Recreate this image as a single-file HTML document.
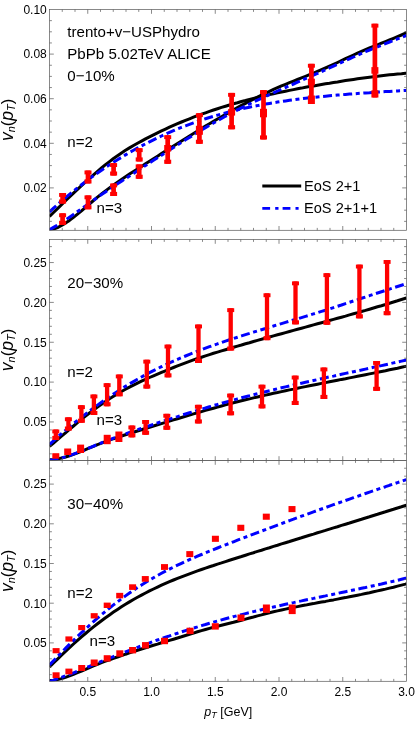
<!DOCTYPE html>
<html><head><meta charset="utf-8"><title>vn(pT)</title>
<style>html,body{margin:0;padding:0;background:#fff}body{width:415px;height:741px;overflow:hidden;font-family:"Liberation Sans",sans-serif}svg{display:block;will-change:transform}</style></head>
<body>
<svg width="415" height="741" viewBox="0 0 415 741">
<rect width="415" height="741" fill="#fff"/>
<defs>
<clipPath id="c0"><rect x="49.50" y="9.50" width="357.00" height="220.80"/></clipPath>
<clipPath id="c1"><rect x="49.50" y="239.50" width="357.00" height="221.00"/></clipPath>
<clipPath id="c2"><rect x="49.50" y="460.50" width="357.00" height="220.80"/></clipPath>
</defs>
<g clip-path="url(#c0)">
<path d="M49.5 216.4L53.5 212.5L57.5 208.6L61.5 204.7L65.5 200.8L69.5 197.0L73.5 193.2L77.5 189.4L81.5 185.7L85.5 182.0L89.5 178.4L93.5 174.8L97.5 171.4L101.5 168.0L105.5 164.7L109.5 161.6L113.5 158.5L117.5 155.7L121.5 152.9L125.5 150.3L129.5 147.9L133.5 145.5L137.5 143.3L141.5 141.1L145.5 138.9L149.5 136.9L153.5 134.8L157.5 132.9L161.5 130.9L165.5 129.1L169.5 127.2L173.5 125.4L177.5 123.7L181.5 122.0L185.5 120.4L189.5 118.8L193.5 117.2L197.5 115.7L201.5 114.2L205.5 112.8L209.5 111.4L213.5 110.0L217.5 108.7L221.5 107.4L225.5 106.2L229.5 105.0L233.5 103.8L237.5 102.7L241.5 101.5L245.5 100.5L249.5 99.4L253.5 98.4L257.5 97.4L261.5 96.5L265.5 95.5L269.5 94.6L273.5 93.7L277.5 92.9L281.5 92.0L285.5 91.2L289.5 90.4L293.5 89.6L297.5 88.8L301.5 88.1L305.5 87.3L309.5 86.6L313.5 85.9L317.5 85.2L321.5 84.5L325.5 83.8L329.5 83.2L333.5 82.5L337.5 81.9L341.5 81.2L345.5 80.6L349.5 80.0L353.5 79.4L357.5 78.8L361.5 78.2L365.5 77.7L369.5 77.2L373.5 76.7L377.5 76.2L381.5 75.7L385.5 75.2L389.5 74.8L393.5 74.4L397.5 74.0L401.5 73.7L405.5 73.3L406.5 73.3" fill="none" stroke="#000" stroke-width="3.0" stroke-linejoin="round"/>
<path d="M49.5 230.2L53.5 229.1L57.5 227.6L61.5 225.5L65.5 223.1L69.5 220.4L73.5 217.4L77.5 214.2L81.5 210.9L85.5 207.4L89.5 204.0L93.5 200.5L97.5 197.2L101.5 194.0L105.5 190.9L109.5 187.9L113.5 185.0L117.5 182.2L121.5 179.4L125.5 176.7L129.5 174.1L133.5 171.5L137.5 168.9L141.5 166.4L145.5 163.8L149.5 161.3L153.5 158.7L157.5 156.2L161.5 153.6L165.5 151.0L169.5 148.5L173.5 146.0L177.5 143.4L181.5 140.9L185.5 138.4L189.5 135.9L193.5 133.5L197.5 131.0L201.5 128.6L205.5 126.1L209.5 123.7L213.5 121.4L217.5 119.0L221.5 116.7L225.5 114.4L229.5 112.1L233.5 109.8L237.5 107.6L241.5 105.4L245.5 103.3L249.5 101.2L253.5 99.1L257.5 97.1L261.5 95.1L265.5 93.1L269.5 91.3L273.5 89.4L277.5 87.7L281.5 85.9L285.5 84.3L289.5 82.7L293.5 81.1L297.5 79.5L301.5 77.9L305.5 76.3L309.5 74.7L313.5 73.1L317.5 71.4L321.5 69.7L325.5 68.0L329.5 66.2L333.5 64.4L337.5 62.5L341.5 60.6L345.5 58.7L349.5 56.9L353.5 55.0L357.5 53.2L361.5 51.4L365.5 49.7L369.5 48.0L373.5 46.4L377.5 44.8L381.5 43.2L385.5 41.6L389.5 40.0L393.5 38.4L397.5 36.7L401.5 35.0L405.5 33.2L406.5 32.7" fill="none" stroke="#000" stroke-width="3.0" stroke-linejoin="round"/>
<path d="M49.5 211.8L53.5 208.2L57.5 204.6L61.5 201.1L65.5 197.7L69.5 194.4L73.5 191.1L77.5 187.9L81.5 184.8L85.5 181.7L89.5 178.7L93.5 175.8L97.5 173.0L101.5 170.2L105.5 167.5L109.5 164.8L113.5 162.2L117.5 159.7L121.5 157.3L125.5 154.9L129.5 152.5L133.5 150.3L137.5 148.0L141.5 145.9L145.5 143.8L149.5 141.8L153.5 139.8L157.5 137.8L161.5 136.0L165.5 134.2L169.5 132.4L173.5 130.7L177.5 129.0L181.5 127.4L185.5 125.9L189.5 124.4L193.5 122.9L197.5 121.5L201.5 120.1L205.5 118.8L209.5 117.5L213.5 116.3L217.5 115.1L221.5 114.0L225.5 112.9L229.5 111.8L233.5 110.8L237.5 109.9L241.5 108.9L245.5 108.0L249.5 107.2L253.5 106.3L257.5 105.6L261.5 104.8L265.5 104.1L269.5 103.4L273.5 102.7L277.5 102.1L281.5 101.5L285.5 100.9L289.5 100.3L293.5 99.8L297.5 99.3L301.5 98.8L305.5 98.3L309.5 97.8L313.5 97.4L317.5 97.0L321.5 96.6L325.5 96.2L329.5 95.8L333.5 95.5L337.5 95.1L341.5 94.8L345.5 94.4L349.5 94.1L353.5 93.8L357.5 93.5L361.5 93.2L365.5 92.9L369.5 92.7L373.5 92.4L377.5 92.1L381.5 91.9L385.5 91.6L389.5 91.4L393.5 91.1L397.5 90.9L401.5 90.7L405.5 90.4L406.5 90.4" fill="none" stroke="#0000ff" stroke-width="3.0" stroke-dasharray="9 3.6 4 3.6" stroke-dashoffset="0" stroke-linejoin="round"/>
<path d="M49.5 229.8L53.5 227.4L57.5 225.0L61.5 222.5L65.5 219.9L69.5 217.2L73.5 214.4L77.5 211.6L81.5 208.8L85.5 205.9L89.5 203.1L93.5 200.2L97.5 197.4L101.5 194.6L105.5 191.9L109.5 189.2L113.5 186.5L117.5 183.8L121.5 181.2L125.5 178.6L129.5 176.0L133.5 173.4L137.5 170.8L141.5 168.2L145.5 165.5L149.5 162.9L153.5 160.3L157.5 157.7L161.5 155.2L165.5 152.6L169.5 150.0L173.5 147.4L177.5 144.9L181.5 142.4L185.5 139.8L189.5 137.4L193.5 134.9L197.5 132.4L201.5 130.0L205.5 127.6L209.5 125.3L213.5 123.0L217.5 120.7L221.5 118.5L225.5 116.3L229.5 114.1L233.5 112.0L237.5 109.9L241.5 107.9L245.5 105.9L249.5 104.0L253.5 102.0L257.5 100.1L261.5 98.3L265.5 96.4L269.5 94.6L273.5 92.8L277.5 91.0L281.5 89.2L285.5 87.5L289.5 85.7L293.5 84.0L297.5 82.2L301.5 80.4L305.5 78.7L309.5 76.9L313.5 75.1L317.5 73.4L321.5 71.6L325.5 69.7L329.5 67.9L333.5 66.1L337.5 64.2L341.5 62.4L345.5 60.6L349.5 58.8L353.5 57.0L357.5 55.2L361.5 53.4L365.5 51.7L369.5 50.0L373.5 48.4L377.5 46.8L381.5 45.2L385.5 43.6L389.5 42.0L393.5 40.5L397.5 38.9L401.5 37.4L405.5 35.9L406.5 35.5" fill="none" stroke="#0000ff" stroke-width="3.0" stroke-dasharray="9 3.6 4 3.6" stroke-dashoffset="0" stroke-linejoin="round"/>
</g>
<g fill="#ff0000">
<rect x="60.25" y="193.00" width="4.70" height="10.60"/>
<rect x="59.10" y="193.00" width="7.00" height="3.90"/>
<rect x="59.10" y="199.50" width="7.00" height="4.10"/>
<rect x="85.65" y="170.50" width="4.70" height="13.00"/>
<rect x="84.50" y="170.50" width="7.00" height="3.90"/>
<rect x="84.50" y="179.40" width="7.00" height="4.10"/>
<rect x="111.25" y="163.10" width="4.70" height="12.50"/>
<rect x="110.10" y="163.10" width="7.00" height="3.90"/>
<rect x="110.10" y="171.50" width="7.00" height="4.10"/>
<rect x="136.85" y="148.20" width="4.70" height="13.30"/>
<rect x="135.70" y="148.20" width="7.00" height="3.90"/>
<rect x="135.70" y="157.40" width="7.00" height="4.10"/>
<rect x="60.25" y="213.30" width="4.70" height="11.60"/>
<rect x="59.10" y="213.30" width="7.00" height="3.90"/>
<rect x="59.10" y="220.80" width="7.00" height="4.10"/>
<rect x="85.65" y="195.40" width="4.70" height="13.90"/>
<rect x="84.50" y="195.40" width="7.00" height="3.90"/>
<rect x="84.50" y="205.20" width="7.00" height="4.10"/>
<rect x="111.25" y="183.50" width="4.70" height="12.50"/>
<rect x="110.10" y="183.50" width="7.00" height="3.90"/>
<rect x="110.10" y="191.90" width="7.00" height="4.10"/>
<rect x="136.85" y="164.40" width="4.70" height="14.40"/>
<rect x="135.70" y="164.40" width="7.00" height="3.90"/>
<rect x="135.70" y="174.70" width="7.00" height="4.10"/>
<rect x="165.35" y="135.20" width="4.70" height="28.60"/>
<rect x="164.20" y="135.20" width="7.00" height="3.90"/>
<rect x="164.20" y="159.70" width="7.00" height="4.10"/>
<rect x="164.20" y="145.00" width="7.00" height="6.50"/>
<rect x="197.05" y="113.20" width="4.70" height="30.60"/>
<rect x="195.90" y="113.20" width="7.00" height="3.90"/>
<rect x="195.90" y="139.70" width="7.00" height="4.10"/>
<rect x="195.90" y="125.80" width="7.00" height="9.00"/>
<rect x="229.25" y="92.90" width="4.70" height="36.40"/>
<rect x="228.10" y="92.90" width="7.00" height="3.90"/>
<rect x="228.10" y="125.20" width="7.00" height="4.10"/>
<rect x="228.10" y="109.10" width="7.00" height="6.50"/>
<rect x="261.15" y="90.10" width="4.70" height="49.40"/>
<rect x="260.00" y="90.10" width="7.00" height="3.90"/>
<rect x="260.00" y="135.40" width="7.00" height="4.10"/>
<rect x="260.00" y="108.80" width="7.00" height="8.50"/>
<rect x="309.05" y="63.80" width="4.70" height="40.20"/>
<rect x="307.90" y="63.80" width="7.00" height="3.90"/>
<rect x="307.90" y="95.50" width="7.00" height="8.50"/>
<rect x="307.90" y="78.70" width="7.00" height="6.60"/>
<rect x="372.55" y="23.70" width="4.70" height="73.80"/>
<rect x="371.40" y="23.70" width="7.00" height="3.90"/>
<rect x="371.40" y="90.30" width="7.00" height="7.20"/>
<rect x="371.40" y="67.10" width="7.00" height="6.60"/>
</g>
<g clip-path="url(#c1)">
<path d="M49.5 446.4L53.5 443.0L57.5 439.6L61.5 436.2L65.5 432.8L69.5 429.4L73.5 426.0L77.5 422.7L81.5 419.4L85.5 416.2L89.5 413.0L93.5 410.0L97.5 407.0L101.5 404.2L105.5 401.5L109.5 398.8L113.5 396.3L117.5 393.9L121.5 391.5L125.5 389.3L129.5 387.1L133.5 385.1L137.5 383.1L141.5 381.2L145.5 379.3L149.5 377.5L153.5 375.8L157.5 374.1L161.5 372.4L165.5 370.8L169.5 369.2L173.5 367.5L177.5 365.9L181.5 364.4L185.5 362.9L189.5 361.4L193.5 359.9L197.5 358.5L201.5 357.2L205.5 355.9L209.5 354.6L213.5 353.3L217.5 352.1L221.5 350.9L225.5 349.7L229.5 348.5L233.5 347.3L237.5 346.1L241.5 345.0L245.5 343.8L249.5 342.7L253.5 341.5L257.5 340.4L261.5 339.3L265.5 338.1L269.5 337.0L273.5 335.9L277.5 334.8L281.5 333.7L285.5 332.6L289.5 331.5L293.5 330.4L297.5 329.3L301.5 328.2L305.5 327.1L309.5 326.0L313.5 324.9L317.5 323.8L321.5 322.7L325.5 321.6L329.5 320.5L333.5 319.4L337.5 318.3L341.5 317.2L345.5 316.1L349.5 314.9L353.5 313.8L357.5 312.7L361.5 311.5L365.5 310.4L369.5 309.2L373.5 308.0L377.5 306.8L381.5 305.7L385.5 304.5L389.5 303.2L393.5 302.0L397.5 300.8L401.5 299.5L405.5 298.3L406.5 298.0" fill="none" stroke="#000" stroke-width="3.0" stroke-linejoin="round"/>
<path d="M49.5 459.8L53.5 459.5L57.5 458.9L61.5 458.0L65.5 457.0L69.5 455.7L73.5 454.4L77.5 452.8L81.5 451.3L85.5 449.6L89.5 447.9L93.5 446.3L97.5 444.6L101.5 443.1L105.5 441.6L109.5 440.1L113.5 438.7L117.5 437.4L121.5 436.0L125.5 434.7L129.5 433.5L133.5 432.2L137.5 431.0L141.5 429.8L145.5 428.5L149.5 427.3L153.5 426.0L157.5 424.8L161.5 423.6L165.5 422.4L169.5 421.1L173.5 419.9L177.5 418.7L181.5 417.5L185.5 416.3L189.5 415.1L193.5 413.9L197.5 412.8L201.5 411.6L205.5 410.4L209.5 409.3L213.5 408.2L217.5 407.1L221.5 406.0L225.5 404.9L229.5 403.9L233.5 402.8L237.5 401.8L241.5 400.8L245.5 399.8L249.5 398.9L253.5 397.9L257.5 397.0L261.5 396.0L265.5 395.1L269.5 394.2L273.5 393.3L277.5 392.5L281.5 391.6L285.5 390.7L289.5 389.9L293.5 389.1L297.5 388.2L301.5 387.4L305.5 386.6L309.5 385.8L313.5 385.0L317.5 384.2L321.5 383.4L325.5 382.6L329.5 381.8L333.5 381.0L337.5 380.2L341.5 379.4L345.5 378.7L349.5 377.9L353.5 377.1L357.5 376.3L361.5 375.5L365.5 374.7L369.5 373.9L373.5 373.1L377.5 372.3L381.5 371.5L385.5 370.7L389.5 369.8L393.5 369.0L397.5 368.2L401.5 367.3L405.5 366.4L406.5 366.2" fill="none" stroke="#000" stroke-width="3.0" stroke-linejoin="round"/>
<path d="M49.5 444.4L53.5 440.8L57.5 437.2L61.5 433.7L65.5 430.3L69.5 426.9L73.5 423.6L77.5 420.4L81.5 417.2L85.5 414.1L89.5 411.0L93.5 408.0L97.5 405.1L101.5 402.2L105.5 399.4L109.5 396.7L113.5 394.0L117.5 391.4L121.5 388.8L125.5 386.3L129.5 383.9L133.5 381.6L137.5 379.3L141.5 377.0L145.5 374.8L149.5 372.7L153.5 370.6L157.5 368.6L161.5 366.7L165.5 364.8L169.5 362.9L173.5 361.1L177.5 359.4L181.5 357.7L185.5 356.0L189.5 354.3L193.5 352.8L197.5 351.2L201.5 349.7L205.5 348.2L209.5 346.7L213.5 345.3L217.5 343.9L221.5 342.5L225.5 341.1L229.5 339.8L233.5 338.5L237.5 337.2L241.5 335.9L245.5 334.6L249.5 333.4L253.5 332.1L257.5 330.9L261.5 329.7L265.5 328.5L269.5 327.2L273.5 326.0L277.5 324.8L281.5 323.6L285.5 322.4L289.5 321.2L293.5 320.0L297.5 318.8L301.5 317.6L305.5 316.4L309.5 315.2L313.5 313.9L317.5 312.7L321.5 311.4L325.5 310.2L329.5 308.9L333.5 307.6L337.5 306.3L341.5 305.0L345.5 303.6L349.5 302.3L353.5 301.0L357.5 299.7L361.5 298.3L365.5 297.0L369.5 295.7L373.5 294.3L377.5 293.0L381.5 291.7L385.5 290.4L389.5 289.1L393.5 287.8L397.5 286.5L401.5 285.2L405.5 283.9L406.5 283.6" fill="none" stroke="#0000ff" stroke-width="3.0" stroke-dasharray="9 3.6 4 3.6" stroke-dashoffset="0" stroke-linejoin="round"/>
<path d="M49.5 460.3L53.5 459.8L57.5 459.0L61.5 458.0L65.5 456.9L69.5 455.6L73.5 454.2L77.5 452.7L81.5 451.1L85.5 449.5L89.5 447.8L93.5 446.1L97.5 444.5L101.5 442.9L105.5 441.3L109.5 439.8L113.5 438.2L117.5 436.8L121.5 435.3L125.5 433.9L129.5 432.5L133.5 431.1L137.5 429.7L141.5 428.4L145.5 427.0L149.5 425.7L153.5 424.4L157.5 423.0L161.5 421.7L165.5 420.4L169.5 419.1L173.5 417.8L177.5 416.6L181.5 415.3L185.5 414.0L189.5 412.8L193.5 411.6L197.5 410.3L201.5 409.1L205.5 408.0L209.5 406.8L213.5 405.6L217.5 404.5L221.5 403.3L225.5 402.2L229.5 401.1L233.5 400.0L237.5 398.9L241.5 397.8L245.5 396.8L249.5 395.8L253.5 394.7L257.5 393.7L261.5 392.7L265.5 391.7L269.5 390.7L273.5 389.8L277.5 388.8L281.5 387.8L285.5 386.9L289.5 386.0L293.5 385.0L297.5 384.1L301.5 383.2L305.5 382.3L309.5 381.4L313.5 380.5L317.5 379.6L321.5 378.7L325.5 377.8L329.5 376.9L333.5 376.1L337.5 375.2L341.5 374.3L345.5 373.4L349.5 372.6L353.5 371.7L357.5 370.8L361.5 370.0L365.5 369.1L369.5 368.2L373.5 367.3L377.5 366.5L381.5 365.6L385.5 364.7L389.5 363.8L393.5 362.9L397.5 362.0L401.5 361.1L405.5 360.2L406.5 360.0" fill="none" stroke="#0000ff" stroke-width="3.0" stroke-dasharray="9 3.6 4 3.6" stroke-dashoffset="0" stroke-linejoin="round"/>
</g>
<g fill="#ff0000">
<rect x="53.65" y="429.50" width="4.30" height="10.50"/>
<rect x="52.30" y="429.50" width="7.00" height="3.90"/>
<rect x="52.30" y="435.90" width="7.00" height="4.10"/>
<rect x="66.25" y="417.30" width="4.30" height="13.30"/>
<rect x="64.90" y="417.30" width="7.00" height="3.90"/>
<rect x="64.90" y="426.50" width="7.00" height="4.10"/>
<rect x="79.25" y="405.20" width="4.30" height="17.60"/>
<rect x="77.90" y="405.20" width="7.00" height="3.90"/>
<rect x="77.90" y="418.70" width="7.00" height="4.10"/>
<rect x="91.75" y="394.50" width="4.30" height="20.50"/>
<rect x="90.40" y="394.50" width="7.00" height="3.90"/>
<rect x="90.40" y="410.90" width="7.00" height="4.10"/>
<rect x="104.95" y="383.20" width="4.30" height="23.10"/>
<rect x="103.60" y="383.20" width="7.00" height="3.90"/>
<rect x="103.60" y="402.20" width="7.00" height="4.10"/>
<rect x="117.15" y="374.50" width="4.30" height="21.80"/>
<rect x="115.80" y="374.50" width="7.00" height="3.90"/>
<rect x="115.80" y="392.20" width="7.00" height="4.10"/>
<rect x="144.65" y="359.70" width="4.30" height="28.90"/>
<rect x="143.30" y="359.70" width="7.00" height="3.90"/>
<rect x="143.30" y="384.50" width="7.00" height="4.10"/>
<rect x="165.85" y="344.60" width="4.30" height="32.80"/>
<rect x="164.50" y="344.60" width="7.00" height="3.90"/>
<rect x="164.50" y="373.30" width="7.00" height="4.10"/>
<rect x="196.35" y="324.50" width="4.30" height="38.50"/>
<rect x="195.00" y="324.50" width="7.00" height="3.90"/>
<rect x="195.00" y="358.90" width="7.00" height="4.10"/>
<rect x="228.55" y="308.20" width="4.30" height="42.40"/>
<rect x="227.20" y="308.20" width="7.00" height="3.90"/>
<rect x="227.20" y="346.50" width="7.00" height="4.10"/>
<rect x="264.85" y="293.30" width="4.30" height="46.90"/>
<rect x="263.50" y="293.30" width="7.00" height="3.90"/>
<rect x="263.50" y="336.10" width="7.00" height="4.10"/>
<rect x="293.35" y="281.40" width="4.30" height="43.00"/>
<rect x="292.00" y="281.40" width="7.00" height="3.90"/>
<rect x="292.00" y="320.30" width="7.00" height="4.10"/>
<rect x="324.75" y="273.20" width="4.30" height="51.60"/>
<rect x="323.40" y="273.20" width="7.00" height="3.90"/>
<rect x="323.40" y="320.70" width="7.00" height="4.10"/>
<rect x="357.25" y="264.60" width="4.30" height="53.80"/>
<rect x="355.90" y="264.60" width="7.00" height="3.90"/>
<rect x="355.90" y="314.30" width="7.00" height="4.10"/>
<rect x="384.95" y="260.00" width="4.30" height="55.20"/>
<rect x="383.60" y="260.00" width="7.00" height="3.90"/>
<rect x="383.60" y="311.10" width="7.00" height="4.10"/>
<rect x="52.30" y="453.20" width="7.00" height="5.50"/>
<rect x="64.20" y="448.50" width="7.00" height="6.50"/>
<rect x="77.10" y="444.60" width="7.00" height="8.40"/>
<rect x="103.70" y="434.80" width="7.00" height="9.40"/>
<rect x="115.40" y="431.50" width="7.00" height="10.50"/>
<rect x="129.75" y="425.50" width="4.30" height="11.90"/>
<rect x="128.40" y="425.50" width="7.00" height="3.90"/>
<rect x="128.40" y="433.30" width="7.00" height="4.10"/>
<rect x="143.45" y="420.00" width="4.30" height="14.80"/>
<rect x="142.10" y="420.00" width="7.00" height="3.90"/>
<rect x="142.10" y="430.70" width="7.00" height="4.10"/>
<rect x="164.65" y="413.80" width="4.30" height="16.00"/>
<rect x="163.30" y="413.80" width="7.00" height="3.90"/>
<rect x="163.30" y="425.70" width="7.00" height="4.10"/>
<rect x="196.25" y="404.80" width="4.30" height="18.70"/>
<rect x="194.90" y="404.80" width="7.00" height="3.90"/>
<rect x="194.90" y="419.40" width="7.00" height="4.10"/>
<rect x="228.45" y="393.60" width="4.30" height="21.70"/>
<rect x="227.10" y="393.60" width="7.00" height="3.90"/>
<rect x="227.10" y="411.20" width="7.00" height="4.10"/>
<rect x="259.85" y="384.70" width="4.30" height="23.70"/>
<rect x="258.50" y="384.70" width="7.00" height="3.90"/>
<rect x="258.50" y="404.30" width="7.00" height="4.10"/>
<rect x="293.05" y="375.60" width="4.30" height="29.40"/>
<rect x="291.70" y="375.60" width="7.00" height="3.90"/>
<rect x="291.70" y="400.90" width="7.00" height="4.10"/>
<rect x="321.75" y="367.50" width="4.30" height="31.50"/>
<rect x="320.40" y="367.50" width="7.00" height="3.90"/>
<rect x="320.40" y="394.90" width="7.00" height="4.10"/>
<rect x="374.45" y="361.00" width="4.30" height="29.90"/>
<rect x="373.10" y="361.00" width="7.00" height="3.90"/>
<rect x="373.10" y="386.80" width="7.00" height="4.10"/>
</g>
<g clip-path="url(#c2)">
<path d="M49.5 667.0L53.5 663.0L57.5 659.1L61.5 655.2L65.5 651.4L69.5 647.7L73.5 644.0L77.5 640.4L81.5 636.9L85.5 633.5L89.5 630.2L93.5 626.9L97.5 623.8L101.5 620.7L105.5 617.7L109.5 614.9L113.5 612.1L117.5 609.4L121.5 606.8L125.5 604.3L129.5 601.9L133.5 599.5L137.5 597.3L141.5 595.1L145.5 593.0L149.5 590.9L153.5 589.0L157.5 587.1L161.5 585.2L165.5 583.4L169.5 581.7L173.5 580.0L177.5 578.4L181.5 576.8L185.5 575.3L189.5 573.8L193.5 572.3L197.5 570.9L201.5 569.5L205.5 568.1L209.5 566.8L213.5 565.5L217.5 564.1L221.5 562.9L225.5 561.6L229.5 560.3L233.5 559.0L237.5 557.7L241.5 556.5L245.5 555.2L249.5 553.9L253.5 552.7L257.5 551.4L261.5 550.2L265.5 548.9L269.5 547.7L273.5 546.4L277.5 545.2L281.5 543.9L285.5 542.7L289.5 541.5L293.5 540.2L297.5 539.0L301.5 537.8L305.5 536.5L309.5 535.3L313.5 534.1L317.5 532.8L321.5 531.6L325.5 530.4L329.5 529.1L333.5 527.9L337.5 526.7L341.5 525.4L345.5 524.2L349.5 523.0L353.5 521.7L357.5 520.5L361.5 519.3L365.5 518.0L369.5 516.8L373.5 515.5L377.5 514.3L381.5 513.0L385.5 511.8L389.5 510.5L393.5 509.3L397.5 508.0L401.5 506.8L405.5 505.5L406.5 505.2" fill="none" stroke="#000" stroke-width="3.0" stroke-linejoin="round"/>
<path d="M49.5 680.4L53.5 680.2L57.5 679.5L61.5 678.6L65.5 677.3L69.5 675.9L73.5 674.3L77.5 672.7L81.5 671.0L85.5 669.3L89.5 667.6L93.5 665.9L97.5 664.3L101.5 662.7L105.5 661.2L109.5 659.8L113.5 658.3L117.5 657.0L121.5 655.6L125.5 654.2L129.5 652.9L133.5 651.6L137.5 650.3L141.5 649.0L145.5 647.8L149.5 646.5L153.5 645.3L157.5 644.1L161.5 642.8L165.5 641.6L169.5 640.4L173.5 639.2L177.5 638.0L181.5 636.8L185.5 635.5L189.5 634.3L193.5 633.1L197.5 631.8L201.5 630.6L205.5 629.5L209.5 628.4L213.5 627.3L217.5 626.3L221.5 625.3L225.5 624.3L229.5 623.3L233.5 622.3L237.5 621.2L241.5 620.2L245.5 619.1L249.5 618.0L253.5 617.0L257.5 615.9L261.5 614.9L265.5 613.8L269.5 612.8L273.5 611.8L277.5 610.9L281.5 610.0L285.5 609.1L289.5 608.2L293.5 607.4L297.5 606.6L301.5 605.8L305.5 605.1L309.5 604.3L313.5 603.6L317.5 602.8L321.5 602.1L325.5 601.4L329.5 600.6L333.5 599.9L337.5 599.1L341.5 598.3L345.5 597.6L349.5 596.8L353.5 596.0L357.5 595.2L361.5 594.4L365.5 593.5L369.5 592.7L373.5 591.8L377.5 590.9L381.5 590.0L385.5 589.1L389.5 588.1L393.5 587.2L397.5 586.1L401.5 585.1L405.5 584.1L406.5 583.8" fill="none" stroke="#000" stroke-width="3.0" stroke-linejoin="round"/>
<path d="M49.5 665.0L53.5 660.8L57.5 656.6L61.5 652.5L65.5 648.4L69.5 644.4L73.5 640.4L77.5 636.5L81.5 632.7L85.5 629.0L89.5 625.3L93.5 621.7L97.5 618.2L101.5 614.7L105.5 611.4L109.5 608.1L113.5 604.9L117.5 601.9L121.5 598.8L125.5 595.9L129.5 593.1L133.5 590.3L137.5 587.6L141.5 585.1L145.5 582.6L149.5 580.1L153.5 577.8L157.5 575.5L161.5 573.3L165.5 571.2L169.5 569.1L173.5 567.1L177.5 565.2L181.5 563.3L185.5 561.4L189.5 559.6L193.5 557.9L197.5 556.2L201.5 554.5L205.5 552.8L209.5 551.2L213.5 549.6L217.5 548.0L221.5 546.4L225.5 544.9L229.5 543.3L233.5 541.8L237.5 540.2L241.5 538.7L245.5 537.2L249.5 535.6L253.5 534.1L257.5 532.6L261.5 531.1L265.5 529.6L269.5 528.1L273.5 526.6L277.5 525.1L281.5 523.6L285.5 522.1L289.5 520.6L293.5 519.2L297.5 517.7L301.5 516.2L305.5 514.8L309.5 513.3L313.5 511.9L317.5 510.4L321.5 509.0L325.5 507.6L329.5 506.1L333.5 504.7L337.5 503.3L341.5 501.9L345.5 500.5L349.5 499.1L353.5 497.7L357.5 496.3L361.5 494.9L365.5 493.5L369.5 492.1L373.5 490.8L377.5 489.4L381.5 488.0L385.5 486.7L389.5 485.3L393.5 484.0L397.5 482.6L401.5 481.3L405.5 479.9L406.5 479.6" fill="none" stroke="#0000ff" stroke-width="3.0" stroke-dasharray="9 3.6 4 3.6" stroke-dashoffset="0" stroke-linejoin="round"/>
<path d="M49.5 681.4L53.5 680.1L57.5 678.7L61.5 677.3L65.5 675.8L69.5 674.3L73.5 672.8L77.5 671.2L81.5 669.6L85.5 668.0L89.5 666.3L93.5 664.7L97.5 663.1L101.5 661.4L105.5 659.8L109.5 658.2L113.5 656.6L117.5 655.0L121.5 653.5L125.5 651.9L129.5 650.4L133.5 648.8L137.5 647.3L141.5 645.8L145.5 644.3L149.5 642.9L153.5 641.4L157.5 640.0L161.5 638.6L165.5 637.2L169.5 635.9L173.5 634.5L177.5 633.2L181.5 631.9L185.5 630.6L189.5 629.3L193.5 628.1L197.5 626.9L201.5 625.6L205.5 624.5L209.5 623.3L213.5 622.1L217.5 621.0L221.5 619.9L225.5 618.8L229.5 617.7L233.5 616.6L237.5 615.6L241.5 614.6L245.5 613.6L249.5 612.6L253.5 611.6L257.5 610.7L261.5 609.7L265.5 608.8L269.5 607.9L273.5 607.0L277.5 606.1L281.5 605.2L285.5 604.3L289.5 603.4L293.5 602.6L297.5 601.7L301.5 600.9L305.5 600.0L309.5 599.2L313.5 598.4L317.5 597.5L321.5 596.7L325.5 595.9L329.5 595.0L333.5 594.2L337.5 593.4L341.5 592.5L345.5 591.7L349.5 590.9L353.5 590.0L357.5 589.2L361.5 588.3L365.5 587.5L369.5 586.6L373.5 585.7L377.5 584.8L381.5 584.0L385.5 583.0L389.5 582.1L393.5 581.2L397.5 580.3L401.5 579.3L405.5 578.3L406.5 578.1" fill="none" stroke="#0000ff" stroke-width="3.0" stroke-dasharray="9 3.6 4 3.6" stroke-dashoffset="0" stroke-linejoin="round"/>
</g>
<g fill="#ff0000">
<rect x="52.60" y="648.10" width="7.00" height="5.20"/>
<rect x="65.40" y="636.40" width="7.00" height="5.20"/>
<rect x="78.20" y="625.00" width="7.00" height="5.20"/>
<rect x="90.70" y="613.15" width="7.00" height="5.30"/>
<rect x="103.70" y="602.60" width="7.00" height="5.40"/>
<rect x="116.20" y="592.85" width="7.00" height="5.50"/>
<rect x="129.10" y="584.30" width="7.00" height="5.60"/>
<rect x="141.80" y="576.05" width="7.00" height="5.70"/>
<rect x="161.00" y="564.10" width="7.00" height="5.80"/>
<rect x="186.30" y="551.10" width="7.00" height="6.00"/>
<rect x="211.90" y="535.75" width="7.00" height="6.10"/>
<rect x="237.30" y="524.75" width="7.00" height="6.10"/>
<rect x="262.80" y="513.65" width="7.00" height="6.10"/>
<rect x="288.50" y="506.05" width="7.00" height="6.10"/>
<rect x="52.60" y="672.30" width="7.00" height="5.80"/>
<rect x="65.40" y="668.60" width="7.00" height="5.80"/>
<rect x="78.20" y="665.00" width="7.00" height="6.00"/>
<rect x="90.70" y="659.50" width="7.00" height="6.40"/>
<rect x="103.70" y="655.20" width="7.00" height="6.40"/>
<rect x="116.30" y="650.30" width="7.00" height="6.40"/>
<rect x="129.10" y="647.00" width="7.00" height="6.40"/>
<rect x="142.00" y="642.10" width="7.00" height="6.40"/>
<rect x="161.00" y="637.80" width="7.00" height="6.40"/>
<rect x="186.60" y="627.70" width="7.00" height="6.40"/>
<rect x="211.80" y="623.20" width="7.00" height="6.40"/>
<rect x="237.50" y="614.50" width="7.00" height="6.60"/>
<rect x="262.90" y="604.50" width="7.00" height="8.40"/>
<rect x="288.70" y="604.50" width="7.00" height="9.60"/>
</g>
<g stroke="#5c5c5c" stroke-width="0.72" fill="none">
<rect x="49.50" y="9.50" width="357.00" height="220.80"/>
<path d="M62.25 230.30v-2.40M62.25 9.50v2.40"/>
<path d="M75.00 230.30v-2.40M75.00 9.50v2.40"/>
<path d="M87.75 230.30v-4.30M87.75 9.50v4.30"/>
<path d="M100.50 230.30v-2.40M100.50 9.50v2.40"/>
<path d="M113.25 230.30v-2.40M113.25 9.50v2.40"/>
<path d="M126.00 230.30v-2.40M126.00 9.50v2.40"/>
<path d="M138.75 230.30v-2.40M138.75 9.50v2.40"/>
<path d="M151.50 230.30v-4.30M151.50 9.50v4.30"/>
<path d="M164.25 230.30v-2.40M164.25 9.50v2.40"/>
<path d="M177.00 230.30v-2.40M177.00 9.50v2.40"/>
<path d="M189.75 230.30v-2.40M189.75 9.50v2.40"/>
<path d="M202.50 230.30v-2.40M202.50 9.50v2.40"/>
<path d="M215.25 230.30v-4.30M215.25 9.50v4.30"/>
<path d="M228.00 230.30v-2.40M228.00 9.50v2.40"/>
<path d="M240.75 230.30v-2.40M240.75 9.50v2.40"/>
<path d="M253.50 230.30v-2.40M253.50 9.50v2.40"/>
<path d="M266.25 230.30v-2.40M266.25 9.50v2.40"/>
<path d="M279.00 230.30v-4.30M279.00 9.50v4.30"/>
<path d="M291.75 230.30v-2.40M291.75 9.50v2.40"/>
<path d="M304.50 230.30v-2.40M304.50 9.50v2.40"/>
<path d="M317.25 230.30v-2.40M317.25 9.50v2.40"/>
<path d="M330.00 230.30v-2.40M330.00 9.50v2.40"/>
<path d="M342.75 230.30v-4.30M342.75 9.50v4.30"/>
<path d="M355.50 230.30v-2.40M355.50 9.50v2.40"/>
<path d="M368.25 230.30v-2.40M368.25 9.50v2.40"/>
<path d="M381.00 230.30v-2.40M381.00 9.50v2.40"/>
<path d="M393.75 230.30v-2.40M393.75 9.50v2.40"/>
<path d="M49.50 221.35h2.40M406.50 221.35h-2.40"/>
<path d="M49.50 210.20h2.40M406.50 210.20h-2.40"/>
<path d="M49.50 199.05h2.40M406.50 199.05h-2.40"/>
<path d="M49.50 187.90h4.30M406.50 187.90h-4.30"/>
<path d="M49.50 176.75h2.40M406.50 176.75h-2.40"/>
<path d="M49.50 165.60h2.40M406.50 165.60h-2.40"/>
<path d="M49.50 154.45h2.40M406.50 154.45h-2.40"/>
<path d="M49.50 143.30h4.30M406.50 143.30h-4.30"/>
<path d="M49.50 132.15h2.40M406.50 132.15h-2.40"/>
<path d="M49.50 121.00h2.40M406.50 121.00h-2.40"/>
<path d="M49.50 109.85h2.40M406.50 109.85h-2.40"/>
<path d="M49.50 98.70h4.30M406.50 98.70h-4.30"/>
<path d="M49.50 87.55h2.40M406.50 87.55h-2.40"/>
<path d="M49.50 76.40h2.40M406.50 76.40h-2.40"/>
<path d="M49.50 65.25h2.40M406.50 65.25h-2.40"/>
<path d="M49.50 54.10h4.30M406.50 54.10h-4.30"/>
<path d="M49.50 42.95h2.40M406.50 42.95h-2.40"/>
<path d="M49.50 31.80h2.40M406.50 31.80h-2.40"/>
<path d="M49.50 20.65h2.40M406.50 20.65h-2.40"/>
<rect x="49.50" y="239.50" width="357.00" height="221.00"/>
<path d="M62.25 460.50v-2.40M62.25 239.50v2.40"/>
<path d="M75.00 460.50v-2.40M75.00 239.50v2.40"/>
<path d="M87.75 460.50v-4.30M87.75 239.50v4.30"/>
<path d="M100.50 460.50v-2.40M100.50 239.50v2.40"/>
<path d="M113.25 460.50v-2.40M113.25 239.50v2.40"/>
<path d="M126.00 460.50v-2.40M126.00 239.50v2.40"/>
<path d="M138.75 460.50v-2.40M138.75 239.50v2.40"/>
<path d="M151.50 460.50v-4.30M151.50 239.50v4.30"/>
<path d="M164.25 460.50v-2.40M164.25 239.50v2.40"/>
<path d="M177.00 460.50v-2.40M177.00 239.50v2.40"/>
<path d="M189.75 460.50v-2.40M189.75 239.50v2.40"/>
<path d="M202.50 460.50v-2.40M202.50 239.50v2.40"/>
<path d="M215.25 460.50v-4.30M215.25 239.50v4.30"/>
<path d="M228.00 460.50v-2.40M228.00 239.50v2.40"/>
<path d="M240.75 460.50v-2.40M240.75 239.50v2.40"/>
<path d="M253.50 460.50v-2.40M253.50 239.50v2.40"/>
<path d="M266.25 460.50v-2.40M266.25 239.50v2.40"/>
<path d="M279.00 460.50v-4.30M279.00 239.50v4.30"/>
<path d="M291.75 460.50v-2.40M291.75 239.50v2.40"/>
<path d="M304.50 460.50v-2.40M304.50 239.50v2.40"/>
<path d="M317.25 460.50v-2.40M317.25 239.50v2.40"/>
<path d="M330.00 460.50v-2.40M330.00 239.50v2.40"/>
<path d="M342.75 460.50v-4.30M342.75 239.50v4.30"/>
<path d="M355.50 460.50v-2.40M355.50 239.50v2.40"/>
<path d="M368.25 460.50v-2.40M368.25 239.50v2.40"/>
<path d="M381.00 460.50v-2.40M381.00 239.50v2.40"/>
<path d="M393.75 460.50v-2.40M393.75 239.50v2.40"/>
<path d="M49.50 453.83h2.40M406.50 453.83h-2.40"/>
<path d="M49.50 445.86h2.40M406.50 445.86h-2.40"/>
<path d="M49.50 437.89h2.40M406.50 437.89h-2.40"/>
<path d="M49.50 429.92h2.40M406.50 429.92h-2.40"/>
<path d="M49.50 421.95h4.30M406.50 421.95h-4.30"/>
<path d="M49.50 413.98h2.40M406.50 413.98h-2.40"/>
<path d="M49.50 406.01h2.40M406.50 406.01h-2.40"/>
<path d="M49.50 398.04h2.40M406.50 398.04h-2.40"/>
<path d="M49.50 390.07h2.40M406.50 390.07h-2.40"/>
<path d="M49.50 382.10h4.30M406.50 382.10h-4.30"/>
<path d="M49.50 374.13h2.40M406.50 374.13h-2.40"/>
<path d="M49.50 366.16h2.40M406.50 366.16h-2.40"/>
<path d="M49.50 358.19h2.40M406.50 358.19h-2.40"/>
<path d="M49.50 350.22h2.40M406.50 350.22h-2.40"/>
<path d="M49.50 342.25h4.30M406.50 342.25h-4.30"/>
<path d="M49.50 334.28h2.40M406.50 334.28h-2.40"/>
<path d="M49.50 326.31h2.40M406.50 326.31h-2.40"/>
<path d="M49.50 318.34h2.40M406.50 318.34h-2.40"/>
<path d="M49.50 310.37h2.40M406.50 310.37h-2.40"/>
<path d="M49.50 302.40h4.30M406.50 302.40h-4.30"/>
<path d="M49.50 294.43h2.40M406.50 294.43h-2.40"/>
<path d="M49.50 286.46h2.40M406.50 286.46h-2.40"/>
<path d="M49.50 278.49h2.40M406.50 278.49h-2.40"/>
<path d="M49.50 270.52h2.40M406.50 270.52h-2.40"/>
<path d="M49.50 262.55h4.30M406.50 262.55h-4.30"/>
<path d="M49.50 254.58h2.40M406.50 254.58h-2.40"/>
<path d="M49.50 246.61h2.40M406.50 246.61h-2.40"/>
<rect x="49.50" y="460.50" width="357.00" height="220.80"/>
<path d="M62.25 681.30v-2.40M62.25 460.50v2.40"/>
<path d="M75.00 681.30v-2.40M75.00 460.50v2.40"/>
<path d="M87.75 681.30v-4.30M87.75 460.50v4.30"/>
<path d="M100.50 681.30v-2.40M100.50 460.50v2.40"/>
<path d="M113.25 681.30v-2.40M113.25 460.50v2.40"/>
<path d="M126.00 681.30v-2.40M126.00 460.50v2.40"/>
<path d="M138.75 681.30v-2.40M138.75 460.50v2.40"/>
<path d="M151.50 681.30v-4.30M151.50 460.50v4.30"/>
<path d="M164.25 681.30v-2.40M164.25 460.50v2.40"/>
<path d="M177.00 681.30v-2.40M177.00 460.50v2.40"/>
<path d="M189.75 681.30v-2.40M189.75 460.50v2.40"/>
<path d="M202.50 681.30v-2.40M202.50 460.50v2.40"/>
<path d="M215.25 681.30v-4.30M215.25 460.50v4.30"/>
<path d="M228.00 681.30v-2.40M228.00 460.50v2.40"/>
<path d="M240.75 681.30v-2.40M240.75 460.50v2.40"/>
<path d="M253.50 681.30v-2.40M253.50 460.50v2.40"/>
<path d="M266.25 681.30v-2.40M266.25 460.50v2.40"/>
<path d="M279.00 681.30v-4.30M279.00 460.50v4.30"/>
<path d="M291.75 681.30v-2.40M291.75 460.50v2.40"/>
<path d="M304.50 681.30v-2.40M304.50 460.50v2.40"/>
<path d="M317.25 681.30v-2.40M317.25 460.50v2.40"/>
<path d="M330.00 681.30v-2.40M330.00 460.50v2.40"/>
<path d="M342.75 681.30v-4.30M342.75 460.50v4.30"/>
<path d="M355.50 681.30v-2.40M355.50 460.50v2.40"/>
<path d="M368.25 681.30v-2.40M368.25 460.50v2.40"/>
<path d="M381.00 681.30v-2.40M381.00 460.50v2.40"/>
<path d="M393.75 681.30v-2.40M393.75 460.50v2.40"/>
<path d="M49.50 674.66h2.40M406.50 674.66h-2.40"/>
<path d="M49.50 666.72h2.40M406.50 666.72h-2.40"/>
<path d="M49.50 658.78h2.40M406.50 658.78h-2.40"/>
<path d="M49.50 650.84h2.40M406.50 650.84h-2.40"/>
<path d="M49.50 642.90h4.30M406.50 642.90h-4.30"/>
<path d="M49.50 634.96h2.40M406.50 634.96h-2.40"/>
<path d="M49.50 627.02h2.40M406.50 627.02h-2.40"/>
<path d="M49.50 619.08h2.40M406.50 619.08h-2.40"/>
<path d="M49.50 611.14h2.40M406.50 611.14h-2.40"/>
<path d="M49.50 603.20h4.30M406.50 603.20h-4.30"/>
<path d="M49.50 595.26h2.40M406.50 595.26h-2.40"/>
<path d="M49.50 587.32h2.40M406.50 587.32h-2.40"/>
<path d="M49.50 579.38h2.40M406.50 579.38h-2.40"/>
<path d="M49.50 571.44h2.40M406.50 571.44h-2.40"/>
<path d="M49.50 563.50h4.30M406.50 563.50h-4.30"/>
<path d="M49.50 555.56h2.40M406.50 555.56h-2.40"/>
<path d="M49.50 547.62h2.40M406.50 547.62h-2.40"/>
<path d="M49.50 539.68h2.40M406.50 539.68h-2.40"/>
<path d="M49.50 531.74h2.40M406.50 531.74h-2.40"/>
<path d="M49.50 523.80h4.30M406.50 523.80h-4.30"/>
<path d="M49.50 515.86h2.40M406.50 515.86h-2.40"/>
<path d="M49.50 507.92h2.40M406.50 507.92h-2.40"/>
<path d="M49.50 499.98h2.40M406.50 499.98h-2.40"/>
<path d="M49.50 492.04h2.40M406.50 492.04h-2.40"/>
<path d="M49.50 484.10h4.30M406.50 484.10h-4.30"/>
<path d="M49.50 476.16h2.40M406.50 476.16h-2.40"/>
<path d="M49.50 468.22h2.40M406.50 468.22h-2.40"/>
</g>
<g font-family="Liberation Sans, sans-serif" fill="#000">
<text x="46.8" y="192.20" font-size="12" text-anchor="end">0.02</text>
<text x="46.8" y="147.60" font-size="12" text-anchor="end">0.04</text>
<text x="46.8" y="103.00" font-size="12" text-anchor="end">0.06</text>
<text x="46.8" y="58.40" font-size="12" text-anchor="end">0.08</text>
<text x="46.8" y="13.80" font-size="12" text-anchor="end">0.10</text>
<text transform="translate(12.7 119.90) rotate(-90)" font-size="17.5" text-anchor="middle"><tspan font-style="italic">v</tspan><tspan font-style="italic" font-size="11" dy="2.5">n</tspan><tspan dy="-2.5" font-size="16.5">(</tspan><tspan font-style="italic">p</tspan><tspan font-style="italic" font-size="11" dy="2.5">T</tspan><tspan dy="-2.5" font-size="16.5">)</tspan></text>
<text x="46.8" y="426.25" font-size="12" text-anchor="end">0.05</text>
<text x="46.8" y="386.40" font-size="12" text-anchor="end">0.10</text>
<text x="46.8" y="346.55" font-size="12" text-anchor="end">0.15</text>
<text x="46.8" y="306.70" font-size="12" text-anchor="end">0.20</text>
<text x="46.8" y="266.85" font-size="12" text-anchor="end">0.25</text>
<text transform="translate(12.7 350.00) rotate(-90)" font-size="17.5" text-anchor="middle"><tspan font-style="italic">v</tspan><tspan font-style="italic" font-size="11" dy="2.5">n</tspan><tspan dy="-2.5" font-size="16.5">(</tspan><tspan font-style="italic">p</tspan><tspan font-style="italic" font-size="11" dy="2.5">T</tspan><tspan dy="-2.5" font-size="16.5">)</tspan></text>
<text x="46.8" y="647.20" font-size="12" text-anchor="end">0.05</text>
<text x="46.8" y="607.50" font-size="12" text-anchor="end">0.10</text>
<text x="46.8" y="567.80" font-size="12" text-anchor="end">0.15</text>
<text x="46.8" y="528.10" font-size="12" text-anchor="end">0.20</text>
<text x="46.8" y="488.40" font-size="12" text-anchor="end">0.25</text>
<text transform="translate(12.7 570.90) rotate(-90)" font-size="17.5" text-anchor="middle"><tspan font-style="italic">v</tspan><tspan font-style="italic" font-size="11" dy="2.5">n</tspan><tspan dy="-2.5" font-size="16.5">(</tspan><tspan font-style="italic">p</tspan><tspan font-style="italic" font-size="11" dy="2.5">T</tspan><tspan dy="-2.5" font-size="16.5">)</tspan></text>
<text x="87.75" y="696.1" font-size="12" text-anchor="middle">0.5</text>
<text x="151.50" y="696.1" font-size="12" text-anchor="middle">1.0</text>
<text x="215.25" y="696.1" font-size="12" text-anchor="middle">1.5</text>
<text x="279.00" y="696.1" font-size="12" text-anchor="middle">2.0</text>
<text x="342.75" y="696.1" font-size="12" text-anchor="middle">2.5</text>
<text x="406.50" y="696.1" font-size="12" text-anchor="middle">3.0</text>
<text x="228.3" y="716.2" font-size="12.5" text-anchor="middle"><tspan font-style="italic">p</tspan><tspan font-style="italic" font-size="9" dy="2">T</tspan><tspan dy="-2"> [GeV]</tspan></text>
<text x="67.30" y="37.00" font-size="15.1">trento+v−USPhydro</text>
<text x="67.30" y="58.80" font-size="15.1">PbPb 5.02TeV ALICE</text>
<text x="67.30" y="80.60" font-size="15.1">0−10%</text>
<text x="67.30" y="146.80" font-size="15.1">n=2</text>
<text x="96.50" y="212.80" font-size="15.1">n=3</text>
<text x="67.30" y="288.40" font-size="15.1">20−30%</text>
<text x="67.30" y="376.70" font-size="15.1">n=2</text>
<text x="96.50" y="425.30" font-size="15.1">n=3</text>
<text x="67.30" y="509.10" font-size="15.1">30−40%</text>
<text x="67.30" y="597.60" font-size="15.1">n=2</text>
<text x="89.60" y="646.20" font-size="15.1">n=3</text>
<text x="304.00" y="191.20" font-size="14.6">EoS 2+1</text>
<text x="304.00" y="213.40" font-size="14.6">EoS 2+1+1</text>
</g>
<path d="M262.3 186H301.2" stroke="#000" stroke-width="2.9" fill="none"/>
<path d="M262.3 208.3H298.6" stroke="#0000ff" stroke-width="2.8" stroke-dasharray="7.8 5.1 3.3 4.1" fill="none"/>
</svg>
</body></html>
